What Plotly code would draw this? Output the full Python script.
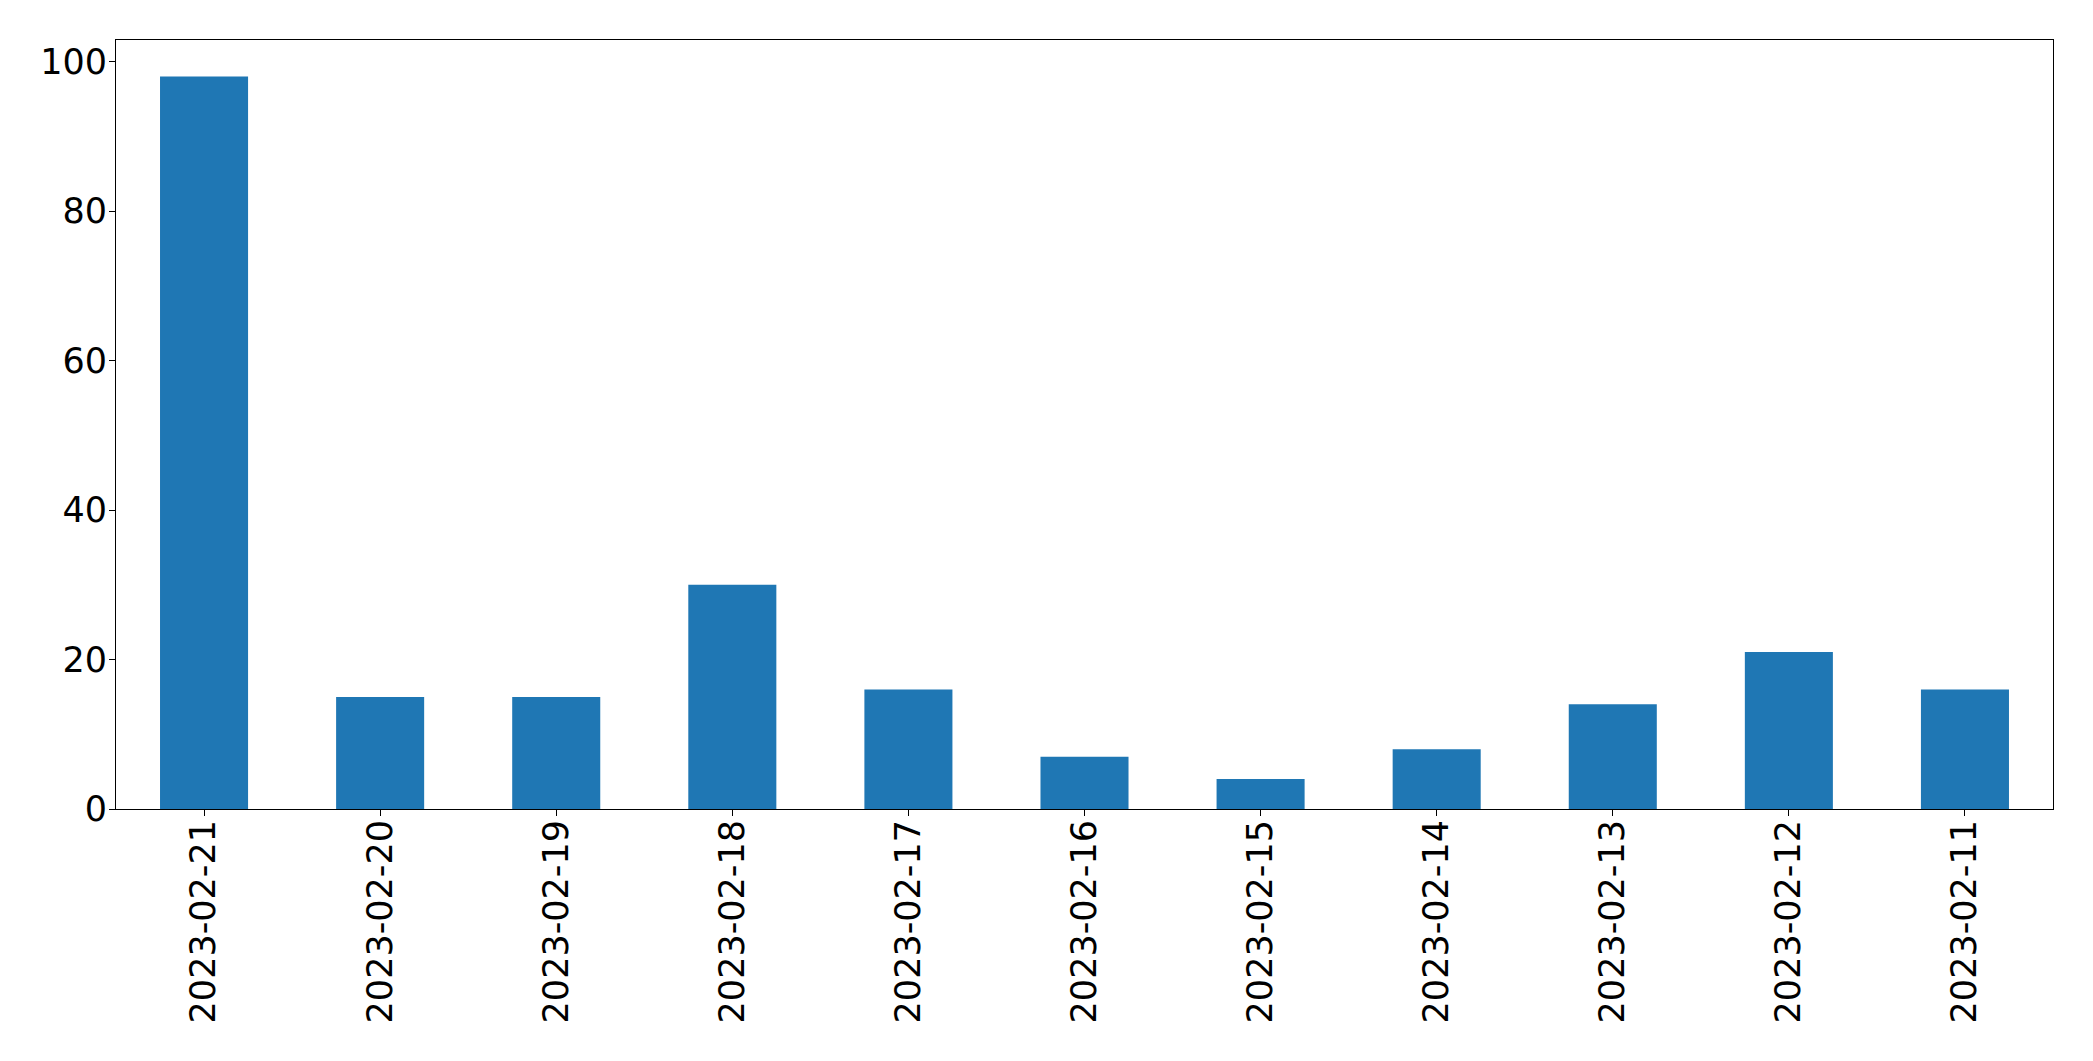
import plotly.graph_objects as go

dates = ["2023-02-21", "2023-02-20", "2023-02-19", "2023-02-18", "2023-02-17",
         "2023-02-16", "2023-02-15", "2023-02-14", "2023-02-13", "2023-02-12",
         "2023-02-11"]
counts = [98, 15, 15, 30, 16, 7, 4, 8, 14, 21, 16]
y_ticks = [0, 20, 40, 60, 80, 100]

fig = go.Figure(go.Bar(x=dates, y=counts, width=0.5, marker_color="#1f77b4",
                       marker_line_width=0))

axis_common = dict(showline=True, linecolor="black", linewidth=1, mirror=True,
                   ticks="outside", ticklen=6, tickcolor="black", tickwidth=1,
                   showgrid=False, zeroline=False,
                   tickfont=dict(family="DejaVu Sans", size=35, color="black"))

fig.update_xaxes(type="category", range=[-0.5, 10.5], tickangle=-90,
                 ticklabelstandoff=-10, **axis_common)
fig.update_yaxes(range=[0, 102.9], tickvals=y_ticks, ticktext=[str(v) for v in y_ticks],
                 ticklabelstandoff=-5, **axis_common)

fig.update_layout(width=2085, height=1053, margin=dict(l=108, r=40, t=32, b=252),
                  plot_bgcolor="white", paper_bgcolor="white", showlegend=False,
                  bargap=0.5)

fig.write_html("out.html")
